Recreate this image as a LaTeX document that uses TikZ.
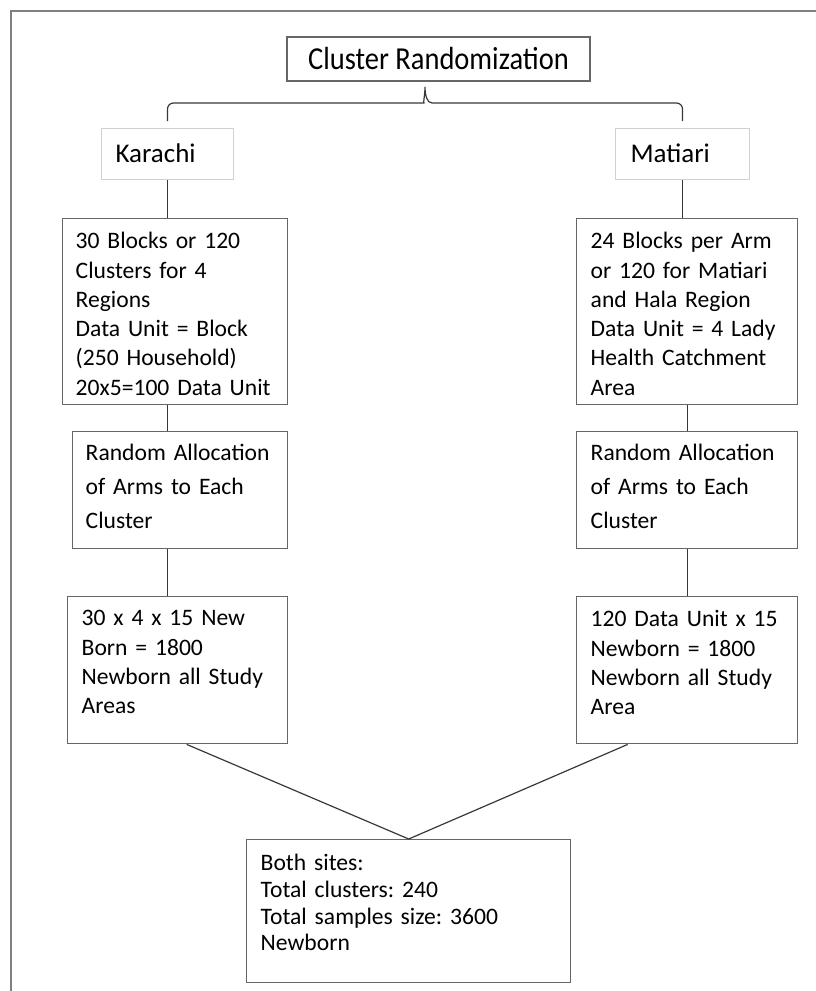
\documentclass[tikz,border=0pt]{standalone}
\usepackage{fontspec}
\setmainfont{Carlito}
\newfontfamily\headfont[FakeStretch=0.89]{Carlito}
\usetikzlibrary{calc}
\frenchspacing

\begin{document}
\begin{tikzpicture}[x=1pt,y=-1pt,
  box/.style={draw=black!60,line width=1.4pt,anchor=north west,align=left,
    inner xsep=13pt,inner ysep=0pt,font=\fontsize{23.6}{29.3}\selectfont},
  site/.style={box,draw=black!18,line width=1pt,font=\fontsize{27}{32}\selectfont},
  link/.style={draw=black!78,line width=1.2pt}]
  \useasboundingbox (0,0) rectangle (816,991);
  \draw[black!50,line width=1.2pt] (11,11) rectangle (840,1020);

  \node (title) [draw=black!60,line width=1.4pt,minimum width=303pt,minimum height=44pt,
    inner sep=0pt,font=\headfont\fontsize{32}{38}\selectfont] at (438.5,59) {Cluster Randomization};

  \node (kar) [site,text width=104pt,inner xsep=14pt,text height=34pt,text depth=17pt]
    at (101,128) {Karachi};
  \node (mat) [site,text width=104pt,inner xsep=15pt,text height=34pt,text depth=17pt]
    at (615,128) {Matiari};

  % Karachi arm
  \node (kb1) [box,text width=199pt,text height=30pt,text depth=156pt] at (62,218)
    {30 Blocks or 120\\Clusters for 4\\Regions\\Data Unit = Block\\(250 Household)\\20x5=100 Data Unit};
  \node (kr2) [box,text width=189pt,text height=29pt,text depth=88pt,
    font=\fontsize{23.6}{34}\selectfont] at (72,431)
    {Random Allocation\\of Arms to Each\\Cluster};
  \node (kn3) [box,text width=192pt,inner xsep=14pt,text height=29pt,text depth=118pt] at (67,596)
    {30 x 4 x 15 New\\Born = 1800\\Newborn all Study\\Areas};

  % Matiari arm
  \node (mb1) [box,text width=193pt,inner xsep=14pt,text height=30pt,text depth=156pt] at (576,218)
    {24 Blocks per Arm\\or 120 for Matiari\\and Hala Region\\Data Unit = 4 Lady\\Health Catchment\\Area};
  \node (mr2) [box,text width=193pt,inner xsep=14pt,text height=29pt,text depth=88pt,
    font=\fontsize{23.6}{34}\selectfont] at (576,431)
    {Random Allocation\\of Arms to Each\\Cluster};
  \node (mn3) [box,text width=193pt,inner xsep=14pt,text height=30pt,text depth=117pt] at (576,596)
    {120 Data Unit x 15\\Newborn = 1800\\Newborn all Study\\Area};

  \node (both) [box,text width=296pt,inner xsep=14pt,text height=31pt,text depth=112pt,
    font=\fontsize{23.6}{26.7}\selectfont] at (246,839)
    {Both sites:\\Total clusters: 240\\Total samples size: 3600\\Newborn};

  \coordinate (tip) at ($(kar.north)!0.5!(mat.north)+(0,-41)$);
  \draw[link] ([yshift=7pt]kar.north) [rounded corners=6pt] |- ($(tip)+(-7,16)$)
    [sharp corners] .. controls +(5,0) and +(0,8) .. (tip)
    .. controls +(0,8) and +(-5,0) .. ($(tip)+(7,16)$)
    [rounded corners=6pt] -| ([yshift=7pt]mat.north);

  \path[link] (kar.south) edge (kar.south |- kb1.north)
    (kar.south |- kb1.south) edge (kar.south |- kr2.north)
    (kar.south |- kr2.south) edge (kar.south |- kn3.north);
  \path[link] (mat.south) edge (mat.south |- mb1.north)
    (mr2.north |- mb1.south) edge (mr2.north)
    (mr2.south) edge (mr2.south |- mn3.north);
  \path[link] ([xshift=9pt]kn3.south) edge (both.north)
    ([xshift=-59.5pt]mn3.south) edge (both.north);
\end{tikzpicture}
\end{document}
